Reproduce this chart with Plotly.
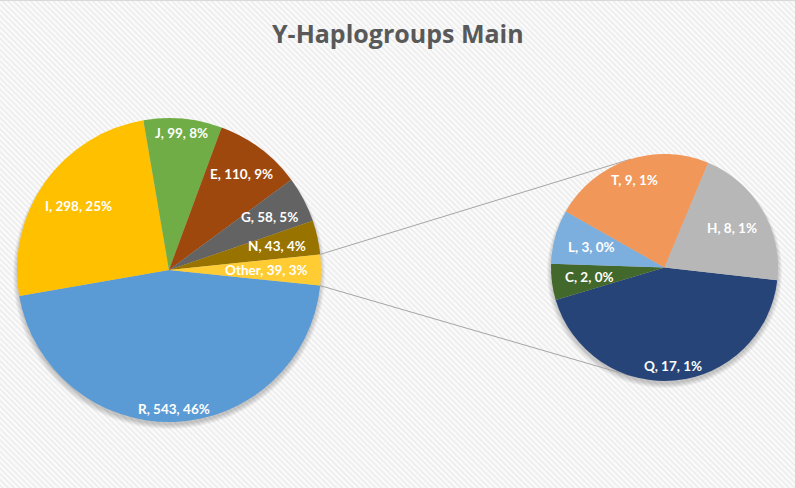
import math
import base64
import plotly.graph_objects as go

# ---------------- data ----------------
title_text = "Y-Haplogroups Main"
main_labels = ["R", "I", "J", "E", "G", "N", "Other"]
main_values = [543, 298, 99, 110, 58, 43, 39]
main_colors = ["#5B9BD5", "#FFC000", "#70AD47", "#9E480E", "#636363", "#997300", "#FFCD33"]

sub_labels = ["Q", "C", "L", "T", "H"]
sub_values = [17, 2, 3, 9, 8]
sub_colors = ["#264478", "#43682B", "#7CAFDD", "#F1975A", "#B7B7B7"]

# ---------------- layout geometry (pixels) ----------------
W, H = 795, 488
main_c = (169.0, 270.0)
main_r = 152.0
sub_c = (664.5, 267.5)
sub_r = 113.5

total = sum(main_values)
other_share = main_values[-1] / total
main_rot = 90 + other_share * 180.0  # "Other" centred on 3 o'clock
sub_rot = 96.5


def px2paper(x, y):
    return x / W, 1 - y / H


def domain(c, r):
    x0, y0 = px2paper(c[0] - r, c[1] + r)
    x1, y1 = px2paper(c[0] + r, c[1] - r)
    return dict(x=[x0, x1], y=[y0, y1])


def label_text(lab, v):
    return f"{lab}, {v}, {round(v / total * 100)}%"


fig = go.Figure()
fig.add_trace(go.Pie(
    labels=main_labels, values=main_values, sort=False, direction="clockwise",
    rotation=main_rot, marker=dict(colors=main_colors, line=dict(width=0)),
    textinfo="none", showlegend=False, domain=domain(main_c, main_r),
    hovertemplate="%{label}: %{value}<extra></extra>"))
fig.add_trace(go.Pie(
    labels=sub_labels, values=sub_values, sort=False, direction="clockwise",
    rotation=sub_rot, marker=dict(colors=sub_colors, line=dict(width=0)),
    textinfo="none", showlegend=False, domain=domain(sub_c, sub_r),
    hovertemplate="%{label}: %{value}<extra></extra>"))

annotations = []
LBL_FONT = dict(family="Lato, 'Open Sans', sans-serif", size=13.5, color="white")
CHAR_W = 6.6


def add_labels(labels, values, c, r, rot):
    s = sum(values)
    cum = 0.0
    for lab, v in zip(labels, values):
        mid_cw = rot + (cum + v / 2) / s * 360.0
        cum += v
        th = math.radians(90 - mid_cw)
        txt = label_text(lab, v)
        w = len(txt) * CHAR_W
        d = r - 12 - (w / 2) * abs(math.cos(th))
        x = c[0] + d * math.cos(th)
        y = c[1] - d * math.sin(th)
        px, py = px2paper(x, y)
        annotations.append(dict(x=px, y=py, xref="paper", yref="paper", text=f"<b>{txt}</b>",
                                showarrow=False, font=LBL_FONT, xanchor="center", yanchor="middle"))


add_labels(main_labels, main_values, main_c, main_r, main_rot)
add_labels(sub_labels, sub_values, sub_c, sub_r, sub_rot)

annotations.append(dict(x=0.5, y=px2paper(0, 33)[1], xref="paper", yref="paper",
                        text=f"<b>{title_text}</b>", showarrow=False,
                        font=dict(family="'Open Sans', sans-serif", size=25, color="#595959"),
                        xanchor="center", yanchor="middle"))

shapes = []
# soft drop shadows
for c, r in [(main_c, main_r), (sub_c, sub_r)]:
    for k in range(1, 6):
        x0, y0 = px2paper(c[0] - r - k + 1, c[1] + r + k + 2)
        x1, y1 = px2paper(c[0] + r + k - 1, c[1] - r + 2)
        shapes.append(dict(type="circle", xref="paper", yref="paper", x0=x0, y0=y0, x1=x1, y1=y1,
                           fillcolor="rgba(0,0,0,0.045)", line=dict(width=0), layer="below"))

# connector lines from "Other" slice edges to tangents on secondary pie
half = other_share * 180.0
for edge_cw, pick_upper in [(main_rot - 2 * half, True), (main_rot, False)]:
    a = math.radians(edge_cw)
    P = (main_c[0] + main_r * math.sin(a), main_c[1] - main_r * math.cos(a))
    vx, vy = P[0] - sub_c[0], P[1] - sub_c[1]
    dist = math.hypot(vx, vy)
    phi = math.atan2(vy, vx)
    beta = math.acos(sub_r / dist)
    cands = [(sub_c[0] + sub_r * math.cos(phi + sg * beta), sub_c[1] + sub_r * math.sin(phi + sg * beta))
             for sg in (1, -1)]
    T = min(cands, key=lambda p: p[1]) if pick_upper else max(cands, key=lambda p: p[1])
    x0, y0 = px2paper(*P)
    x1, y1 = px2paper(*T)
    shapes.append(dict(type="line", xref="paper", yref="paper", x0=x0, y0=y0, x1=x1, y1=y1,
                       line=dict(color="#a6a6a6", width=1), layer="below"))

# top border
shapes.append(dict(type="line", xref="paper", yref="paper", x0=0, x1=1, y0=1 - 0.5 / H, y1=1 - 0.5 / H,
                   line=dict(color="#d9d9d9", width=1)))

# striped background texture
svg = ('<svg xmlns="http://www.w3.org/2000/svg" width="795" height="488">'
       '<defs><pattern id="p" width="4" height="4" patternUnits="userSpaceOnUse" patternTransform="rotate(-45)">'
       '<rect width="4" height="4" fill="#fbfbfb"/><rect width="1.6" height="4" fill="#ececec"/></pattern></defs>'
       '<rect width="795" height="488" fill="url(#p)"/></svg>')
src = "data:image/svg+xml;base64," + base64.b64encode(svg.encode()).decode()

fig.update_layout(
    width=W, height=H, margin=dict(l=0, r=0, t=0, b=0),
    paper_bgcolor="#f4f4f4", plot_bgcolor="#f4f4f4",
    annotations=annotations, shapes=shapes,
    images=[dict(source=src, xref="paper", yref="paper", x=0, y=1, sizex=1, sizey=1,
                 xanchor="left", yanchor="top", sizing="stretch", layer="below")],
)

fig.write_html("out.html")
